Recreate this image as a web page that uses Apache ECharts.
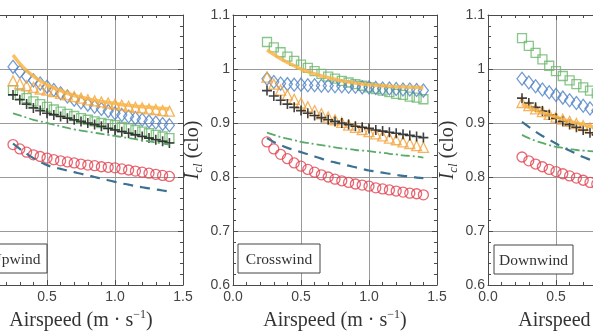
<!DOCTYPE html>
<html><head><meta charset="utf-8">
<script src="https://cdn.jsdelivr.net/npm/echarts@6/dist/echarts.min.js"></script>
<style>html,body{margin:0;padding:0;background:#fff}#c{width:593px;height:334px}</style>
</head><body><div id="c"></div>
<script>
// ---------- data ----------
const airspeed = [0.25,0.30,0.35,0.40,0.45,0.50,0.55,0.60,0.65,0.70,0.75,0.80,0.85,0.90,0.95,1.00,1.05,1.10,1.15,1.20,1.25,1.30,1.35,1.40];
const panelNames = ['Upwind','Crosswind','Downwind'];
const xTickValues = [0.0,0.5,1.0,1.5];
const yTickValues = [0.6,0.7,0.8,0.9,1.0,1.1];

// Upwind
const upOrangeLine = [1.026,1.010,0.997,0.987,0.978,0.971,0.965,0.960,0.955,0.951,0.948,0.945,0.942,0.940,0.938,0.936,0.934,0.933,0.931,0.930,0.929,0.928,0.927,0.926];
const upSquares    = [0.961,0.953,0.946,0.940,0.935,0.930,0.925,0.921,0.917,0.913,0.909,0.906,0.903,0.900,0.898,0.896,0.893,0.890,0.887,0.884,0.881,0.878,0.875,0.872];
const upDiamonds   = [1.004,0.995,0.986,0.979,0.973,0.967,0.961,0.955,0.949,0.943,0.938,0.934,0.930,0.926,0.922,0.918,0.915,0.912,0.909,0.906,0.903,0.901,0.898,0.896];
const upTriangles  = [0.978,0.973,0.969,0.966,0.963,0.961,0.958,0.955,0.952,0.949,0.946,0.943,0.941,0.939,0.937,0.935,0.933,0.931,0.929,0.928,0.926,0.925,0.923,0.922];
const upDashDot    = [0.918,0.914,0.910,0.906,0.903,0.900,0.897,0.894,0.891,0.888,0.886,0.884,0.882,0.880,0.878,0.876,0.874,0.872,0.870,0.868,0.866,0.864,0.862,0.860];
const upDashed     = [0.862,0.852,0.843,0.835,0.828,0.822,0.818,0.815,0.812,0.809,0.806,0.803,0.800,0.797,0.794,0.791,0.788,0.786,0.783,0.781,0.779,0.777,0.775,0.773];
const upCircles    = [0.860,0.852,0.846,0.841,0.838,0.835,0.832,0.830,0.828,0.826,0.824,0.822,0.821,0.819,0.818,0.817,0.815,0.813,0.811,0.809,0.807,0.805,0.803,0.801];
const upPlus       = [0.952,0.943,0.935,0.928,0.923,0.918,0.915,0.912,0.909,0.906,0.903,0.900,0.897,0.894,0.890,0.887,0.884,0.881,0.878,0.875,0.872,0.869,0.866,0.863];

// Crosswind
const crossOrangeLine = [1.035,1.027,1.019,1.012,1.006,1.000,0.995,0.991,0.987,0.984,0.981,0.978,0.976,0.974,0.972,0.971,0.970,0.969,0.968,0.967,0.967,0.966,0.966,0.965];
const crossSquares    = [1.050,1.040,1.031,1.023,1.015,1.008,1.002,0.996,0.991,0.986,0.982,0.978,0.975,0.972,0.969,0.966,0.963,0.960,0.957,0.954,0.952,0.949,0.947,0.944];
const crossDiamonds   = [0.982,0.976,0.973,0.972,0.971,0.971,0.970,0.970,0.969,0.969,0.968,0.968,0.967,0.967,0.966,0.966,0.965,0.964,0.964,0.963,0.962,0.962,0.961,0.960];
const crossTriangles  = [0.985,0.972,0.961,0.952,0.944,0.937,0.930,0.923,0.917,0.911,0.906,0.901,0.896,0.892,0.888,0.884,0.880,0.876,0.872,0.869,0.865,0.862,0.858,0.855];
const crossDashDot    = [0.882,0.878,0.874,0.871,0.868,0.865,0.863,0.861,0.859,0.857,0.855,0.853,0.852,0.850,0.849,0.848,0.846,0.845,0.843,0.842,0.840,0.839,0.838,0.836];
const crossDashed     = [0.872,0.865,0.859,0.854,0.850,0.846,0.842,0.838,0.834,0.830,0.827,0.824,0.821,0.818,0.815,0.812,0.810,0.808,0.806,0.804,0.802,0.801,0.799,0.798];
const crossCircles    = [0.865,0.852,0.842,0.834,0.826,0.820,0.814,0.809,0.804,0.800,0.796,0.793,0.790,0.787,0.785,0.783,0.780,0.778,0.776,0.774,0.772,0.770,0.769,0.767];
const crossPlus       = [0.960,0.950,0.942,0.935,0.929,0.923,0.918,0.914,0.910,0.906,0.903,0.900,0.897,0.894,0.892,0.890,0.887,0.885,0.883,0.881,0.879,0.877,0.875,0.873];

// Downwind
const downOrangeLine = [0.935,0.929,0.924,0.919,0.915,0.911,0.907,0.903,0.900,0.897,0.894,0.891,0.889,0.887,0.885,0.883,0.881,0.879,0.877,0.876,0.874,0.873,0.872,0.871];
const downSquares    = [1.057,1.043,1.030,1.018,1.006,0.996,0.987,0.979,0.972,0.966,0.960,0.955,0.950,0.946,0.942,0.938,0.935,0.932,0.929,0.926,0.923,0.921,0.919,0.917];
const downDiamonds   = [0.982,0.975,0.968,0.962,0.957,0.952,0.947,0.942,0.937,0.932,0.927,0.923,0.919,0.915,0.912,0.909,0.906,0.903,0.900,0.898,0.896,0.894,0.892,0.890];
const downTriangles  = [0.938,0.932,0.926,0.921,0.916,0.911,0.907,0.903,0.899,0.895,0.891,0.888,0.885,0.882,0.879,0.876,0.874,0.872,0.870,0.868,0.866,0.864,0.862,0.860];
const downDashDot    = [0.878,0.872,0.867,0.863,0.859,0.856,0.854,0.852,0.850,0.849,0.848,0.847,0.846,0.845,0.844,0.843,0.842,0.841,0.840,0.839,0.838,0.837,0.836,0.835];
const downDashed     = [0.902,0.893,0.884,0.876,0.869,0.862,0.855,0.849,0.843,0.837,0.832,0.827,0.822,0.818,0.814,0.810,0.806,0.803,0.800,0.797,0.794,0.791,0.789,0.787];
const downCircles    = [0.837,0.830,0.824,0.819,0.814,0.810,0.806,0.802,0.798,0.794,0.790,0.787,0.784,0.781,0.778,0.776,0.774,0.772,0.770,0.768,0.766,0.764,0.762,0.760];
const downPlus       = [0.946,0.937,0.929,0.922,0.915,0.909,0.903,0.897,0.892,0.887,0.882,0.878,0.874,0.870,0.867,0.864,0.861,0.858,0.856,0.854,0.852,0.850,0.848,0.846];

const panelData = [
  {orangeLine: upOrangeLine, squares: upSquares, diamonds: upDiamonds, triangles: upTriangles, dashDot: upDashDot, dashed: upDashed, circles: upCircles, plus: upPlus},
  {orangeLine: crossOrangeLine, squares: crossSquares, diamonds: crossDiamonds, triangles: crossTriangles, dashDot: crossDashDot, dashed: crossDashed, circles: crossCircles, plus: crossPlus},
  {orangeLine: downOrangeLine, squares: downSquares, diamonds: downDiamonds, triangles: downTriangles, dashDot: downDashDot, dashed: downDashed, circles: downCircles, plus: downPlus}
];

// ---------- styles / layout ----------
const gridLeft = [-21, 233, 488];
const GRID_TOP = 15, GRID_W = 204, GRID_H = 270;
const boxes = [
  {x: -16, y: 244, w: 63, h: 29},
  {x: 238, y: 244, w: 82, h: 29},
  {x: 494, y: 245, w: 79, h: 29}
];
const serif = '"Liberation Serif", "Times New Roman", serif';
const sans = '"Liberation Sans", Arial, sans-serif';
const frameColor = '#4a4a4a';

const seriesStyles = {
  orangeLine: {type: 'line', color: '#f9b548', lineStyle: {width: 3.5, opacity: 0.85}},
  squares:   {type: 'scatter', symbol: 'rect', size: 9, color: '#6cb86c'},
  diamonds:  {type: 'scatter', symbol: 'diamond', size: [10, 13], color: '#4f82c4'},
  triangles: {type: 'scatter', symbol: 'triangle', size: 10, color: '#f3a13a'},
  dashDot:   {type: 'line', color: '#5aab6a', lineStyle: {width: 1.8, type: [9, 3, 2, 3]}},
  dashed:    {type: 'line', color: '#3b7191', lineStyle: {width: 2.2, type: [10, 7]}},
  circles:   {type: 'scatter', symbol: 'circle', size: 10, color: '#e2414f'},
  plus:      {type: 'scatter', symbol: 'path://M4.2,0H5.8V4.2H10V5.8H5.8V10H4.2V5.8H0V4.2H4.2Z', size: 10, color: '#111', filled: true}
};
const drawOrder = ['orangeLine','squares','diamonds','triangles','dashDot','dashed','circles','plus'];

const grids = [], xAxes = [], yAxes = [], series = [], graphics = [];
const fmtY = v => { const s = v.toFixed(1); return s === '1.0' ? '1' : s; };

panelNames.forEach((pname, i) => {
  grids.push({left: gridLeft[i], top: GRID_TOP, width: GRID_W, height: GRID_H, containLabel: false, outerBoundsMode: 'none'});
  const tick = {show: true, inside: true, length: 5, lineStyle: {color: frameColor}};
  const minor = {show: true, splitNumber: 5, length: 3, lineStyle: {color: frameColor}};
  const line = {show: true, onZero: false, lineStyle: {color: frameColor, width: 1}};
  xAxes.push({
    gridIndex: i, type: 'value', position: 'bottom', min: xTickValues[0], max: xTickValues[xTickValues.length-1], interval: 0.5,
    axisLine: line, axisTick: tick, minorTick: minor,
    axisLabel: {formatter: v => v.toFixed(1), margin: 5, color: '#444', fontSize: 14, fontFamily: sans},
    splitLine: {show: true, lineStyle: {color: '#9a9a9a', width: 1}},
    name: '{t|Airspeed (m · s}{sup|−1}{t|)}', nameLocation: 'middle', nameGap: 18,
    nameTextStyle: {fontFamily: serif, color: '#333', rich: {
      t: {fontFamily: serif, fontSize: 20, color: '#333', lineHeight: 24, verticalAlign: 'middle'},
      sup: {fontFamily: serif, fontSize: 12, color: '#333', lineHeight: 12, verticalAlign: 'top'}
    }}
  });
  xAxes.push({
    gridIndex: i, type: 'value', position: 'top', min: xTickValues[0], max: xTickValues[xTickValues.length-1], interval: 0.5,
    axisLine: line, axisTick: tick, minorTick: minor, axisLabel: {show: false}, splitLine: {show: false}
  });
  yAxes.push({
    gridIndex: i, type: 'value', position: 'left', min: yTickValues[0], max: yTickValues[yTickValues.length-1], interval: 0.1,
    axisLine: line, axisTick: tick, minorTick: minor,
    axisLabel: {formatter: fmtY, margin: 3, color: '#444', fontSize: 14, fontFamily: sans},
    splitLine: {show: true, lineStyle: {color: '#9a9a9a', width: 1}},
    name: '{i|I}{sub|cl}{t| (clo)}', nameLocation: 'middle', nameGap: 28, nameRotate: 90,
    nameTextStyle: {fontFamily: serif, color: '#333', rich: {
      i: {fontFamily: serif, fontStyle: 'italic', fontSize: 20, color: '#333', lineHeight: 24, verticalAlign: 'middle'},
      sub: {fontFamily: serif, fontStyle: 'italic', fontSize: 13, color: '#333', lineHeight: 13, verticalAlign: 'bottom'},
      t: {fontFamily: serif, fontSize: 20, color: '#333', lineHeight: 24, verticalAlign: 'middle'}
    }}
  });
  yAxes.push({
    gridIndex: i, type: 'value', position: 'right', min: yTickValues[0], max: yTickValues[yTickValues.length-1], interval: 0.1,
    axisLine: line, axisTick: tick, minorTick: minor, axisLabel: {show: false}, splitLine: {show: false}
  });

  drawOrder.forEach(key => {
    const st = seriesStyles[key];
    const data = airspeed.map((x, k) => [x, panelData[i][key][k]]);
    const s = {
      name: pname + ' ' + key, type: st.type, xAxisIndex: 2*i, yAxisIndex: 2*i, data: data,
      animation: false, silent: true
    };
    if (st.type === 'line') {
      s.smooth = true; s.showSymbol = false; s.symbol = 'none';
      s.lineStyle = Object.assign({color: st.color}, st.lineStyle);
      s.itemStyle = {color: st.color};
    } else {
      s.symbol = st.symbol; s.symbolSize = st.size;
      s.itemStyle = st.filled ? {color: st.color} : {color: 'rgba(255,255,255,0)', borderColor: st.color, borderWidth: 1.3};
    }
    series.push(s);
  });

  const b = boxes[i];
  graphics.push({type: 'rect', shape: {x: b.x, y: b.y, width: b.w, height: b.h}, style: {fill: '#fff', stroke: '#444', lineWidth: 1}, z: 100});
  graphics.push({type: 'text', x: b.x + b.w/2, y: b.y + b.h/2 + 1, style: {text: pname, align: 'center', verticalAlign: 'middle', font: '15.5px ' + serif, fill: '#333'}, z: 101});
});

const chart = echarts.init(document.getElementById('c'), null, {renderer: 'canvas'});
chart.setOption({
  animation: false,
  backgroundColor: '#fff',
  grid: grids, xAxis: xAxes, yAxis: yAxes, series: series, graphic: graphics
});
</script>
</body></html>
